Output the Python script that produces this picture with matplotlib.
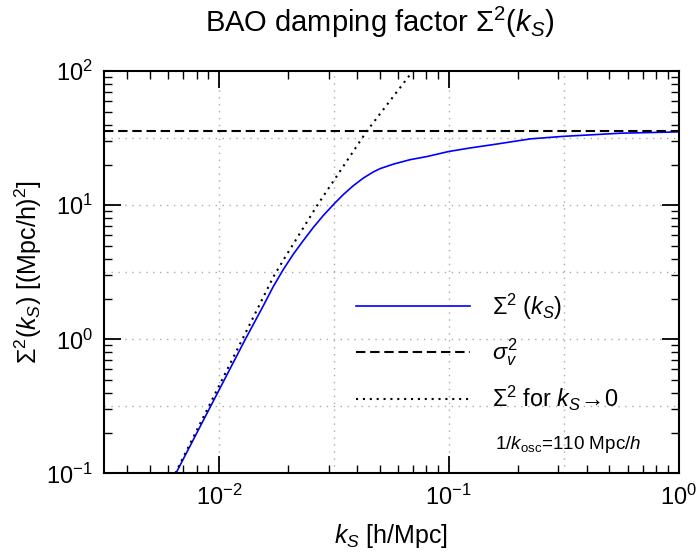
import numpy as np
import matplotlib
matplotlib.use("Agg")
import matplotlib.pyplot as plt

# 데이터
k_sigma = [0.0065, 0.01303, 0.0156, 0.01726, 0.01905, 0.02107, 0.0233, 0.02576,
           0.02847, 0.0318, 0.03483, 0.03846, 0.04256, 0.04699, 0.05035, 0.05754,
           0.06792, 0.08035, 0.1, 0.1242, 0.1567, 0.2265, 0.3162, 0.5585, 1.0]
sigma2 = [0.1, 1.0, 1.778, 2.483, 3.311, 4.315, 5.458, 6.839,
          8.395, 10.3, 12.05, 14.01, 15.99, 17.74, 18.79, 20.3,
          21.9, 23.1, 25.2, 26.8, 28.4, 31.3, 32.7, 34.5, 35.3]

k_small = [0.006457, 0.012647, 0.017258, 0.019055, 0.026792, 0.043954, 0.059429, 0.0697]
sigma2_small = [0.1, 1.0, 2.924, 3.89, 10.0, 35.65, 70.1, 100.0]

sigma_v2 = 35.6
k_osc_inv = 110

plt.rcParams['font.family'] = ['Liberation Sans', 'DejaVu Sans']
plt.rcParams['mathtext.fontset'] = 'custom'
plt.rcParams['mathtext.rm'] = 'Liberation Sans'
plt.rcParams['mathtext.it'] = 'Liberation Sans:italic'
plt.rcParams['mathtext.bf'] = 'Liberation Sans:bold'

fig = plt.figure(figsize=(6.97, 5.56), dpi=100)
ax = fig.add_axes([0.1492, 0.1487, 0.8243, 0.7231])

ax.plot(k_sigma, sigma2, color='blue', lw=1.2, label=r'$\Sigma^2\ (k_S)$')
ax.axhline(sigma_v2, color='black', lw=1.5, ls=(0, (4.5, 2.3)), label=r'$\sigma_v^2$')
ax.plot(k_small, sigma2_small, color='black', lw=1.5, ls=(0, (1, 2.3)),
        label=r'$\Sigma^2$ for $k_S\!\rightarrow\!0$')

ax.set_xscale('log')
ax.set_yscale('log')
ax.set_xlim(10**-2.5, 1.0)
ax.set_ylim(0.1, 100)

# 반 decade 간격 격자
for g in 10**np.arange(-2.0, 0.0, 0.5):
    ax.axvline(g, color='#aaaaaa', lw=1.0, ls=(0, (1, 4)), zorder=0)
for g in 10**np.arange(-0.5, 2.0, 0.5):
    ax.axhline(g, color='#aaaaaa', lw=1.0, ls=(0, (1, 4)), zorder=0)

ax.tick_params(which='both', direction='in', top=True, right=True, labelsize=17)
ax.tick_params(which='major', length=12, width=1.3, pad=8)
ax.tick_params(which='minor', length=6, width=1.0)
for s in ax.spines.values():
    s.set_linewidth(1.5)

ax.set_title(r'BAO damping factor $\Sigma^2(k_S)$', fontsize=21, pad=28, x=0.48)
ax.set_xlabel(r'$k_S$ [h/Mpc]', fontsize=18, labelpad=9)
ax.set_ylabel(r'$\Sigma^2(k_S)$ [(Mpc/h)$^2$]', fontsize=18, labelpad=2)

ax.legend(loc='upper left', bbox_to_anchor=(0.4386, 0.4525), frameon=False,
          fontsize=16.8, handlelength=4.9, handletextpad=0.93, labelspacing=0.65,
          borderpad=0, borderaxespad=0)

ax.text(0.6806, 0.071, r'$1/k_{\rm osc}$=%d Mpc/$h$' % k_osc_inv,
        transform=ax.transAxes, fontsize=13.6, va='center', ha='left')

plt.savefig('out.png', dpi=100)
